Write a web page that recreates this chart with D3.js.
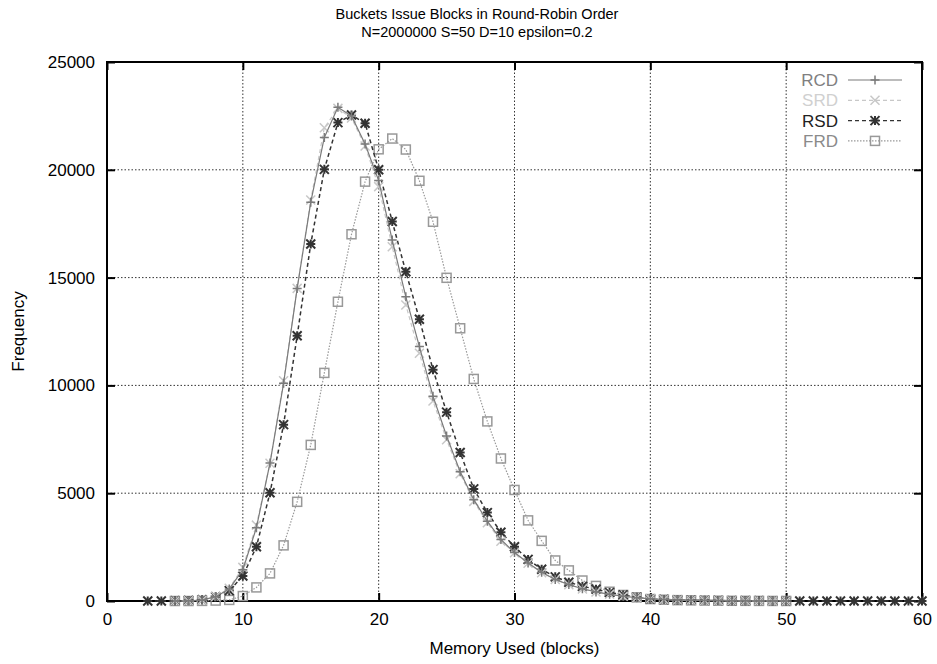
<!DOCTYPE html>
<html>
<head>
<meta charset="utf-8">
<script src="https://cdn.jsdelivr.net/npm/d3@7/dist/d3.min.js"></script>
<style>
  body { margin: 0; background: #fff; }
  svg text { font-family: "Liberation Sans", Arial, sans-serif; }
</style>
</head>
<body>
<div id="chart"></div>
<script>
// values (x = memory used in blocks)
const rcdX = d3.range(5, 51);
const rcdY = [0, 10, 40, 200, 560, 1450, 3400, 6400, 10100, 14500, 18500, 21500, 22900, 22500, 21200, 19500,
  16740, 14110, 11800, 9500, 7650, 6000, 4700, 3700, 2850, 2250, 1760, 1330, 1000, 760, 570, 420, 310, 220,
  150, 100, 70, 50, 35, 25, 18, 12, 8, 5, 3, 2];

const srdX = d3.range(5, 51);
const srdY = [0, 10, 40, 210, 590, 1560, 3520, 6390, 10220, 14500, 18600, 21950, 22850, 22400, 21100, 19220,
  16430, 13730, 11490, 9280, 7480, 5900, 4620, 3630, 2770, 2240, 1750, 1310, 1000, 750, 560, 420, 310, 220,
  150, 100, 70, 50, 35, 25, 18, 12, 8, 5, 3, 2];

const rsdX = d3.range(3, 61);
const rsdY = [0, 0, 10, 20, 60, 200, 480, 1160, 2520, 5020, 8180, 12300, 16560, 20020, 22190, 22540, 22160,
  20000, 17600, 15270, 13070, 10730, 8760, 6890, 5200, 4100, 3190, 2520, 1930, 1470, 1120, 870, 680, 550, 390,
  280, 170, 90, 70, 50, 40, 30, 20, 15, 10, 8, 5, 3, 2, 1, 0, 0, 0, 0, 0, 0, 0, 0];

const frdX = d3.range(5, 51);
const frdY = [0, 0, 5, 20, 50, 230, 630, 1280, 2580, 4600, 7240, 10580, 13880, 17010, 19450, 20950, 21450,
  20940, 19490, 17590, 14990, 12650, 10300, 8330, 6610, 5150, 3740, 2790, 1880, 1420, 950, 700, 430, 280, 170,
  90, 60, 40, 30, 20, 15, 10, 8, 5, 3, 2];

const xTicks = [0, 10, 20, 30, 40, 50, 60];
const yTicks = [0, 5000, 10000, 15000, 20000, 25000];

const titleLines = ['Buckets Issue Blocks in Round-Robin Order', 'N=2000000 S=50 D=10 epsilon=0.2'];

const series = [
  {name: 'RCD', xs: rcdX, ys: rcdY, color: '#7a7a7a', text: '#808080', dash: null, marker: 'plus'},
  {name: 'SRD', xs: srdX, ys: srdY, color: '#c8c8c8', text: '#d0d0d0', dash: '4,3', marker: 'cross'},
  {name: 'RSD', xs: rsdX, ys: rsdY, color: '#333333', text: '#222222', dash: '4,3', marker: 'star'},
  {name: 'FRD', xs: frdX, ys: frdY, color: '#999999', text: '#8a8a8a', dash: '1.5,1.5', marker: 'square'},
];

const W = 937, H = 664;
const pad = {l: 107, r: 15, t: 62, b: 63};
const iw = W - pad.l - pad.r, ih = H - pad.t - pad.b;
const FS = 17;

const svg = d3.select('#chart').append('svg')
  .attr('width', W).attr('height', H);

const x = d3.scaleLinear().domain([0, 60]).range([0, iw]);
const y = d3.scaleLinear().domain([0, 25000]).range([ih, 0]);

svg.append('g')
  .selectAll('text')
  .data(titleLines)
  .join('text')
  .attr('x', 477)
  .attr('y', (d, i) => 19 + i * 18)
  .attr('text-anchor', 'middle')
  .attr('font-size', 14.5)
  .text(d => d);

const chart = svg.append('g').attr('transform', `translate(${pad.l}, ${pad.t})`);

// grid (dotted, skip frame edges)
chart.append('g').selectAll('line')
  .data(xTicks.filter(t => t > 0 && t < 60))
  .join('line')
  .attr('x1', d => x(d)).attr('x2', d => x(d))
  .attr('y1', 0).attr('y2', ih)
  .attr('stroke', '#333').attr('stroke-width', 1).attr('stroke-dasharray', '1.5,2');
chart.append('g').selectAll('line')
  .data(yTicks.filter(t => t > 0 && t < 25000))
  .join('line')
  .attr('x1', 0).attr('x2', iw)
  .attr('y1', d => y(d)).attr('y2', d => y(d))
  .attr('stroke', '#333').attr('stroke-width', 1).attr('stroke-dasharray', '1.5,2');

// axes with inward ticks, mirrored on top / right
const xAxis = chart.append('g').attr('transform', `translate(0, ${ih})`)
  .call(d3.axisBottom(x).tickValues(xTicks).tickSize(-8).tickPadding(11));
const yAxis = chart.append('g')
  .call(d3.axisLeft(y).tickValues(yTicks).tickFormat(d3.format('d')).tickSize(-8).tickPadding(12));
chart.append('g')
  .call(d3.axisTop(x).tickValues(xTicks).tickSize(-8).tickFormat(''));
chart.append('g').attr('transform', `translate(${iw}, 0)`)
  .call(d3.axisRight(y).tickValues(yTicks).tickSize(-8).tickFormat(''));
chart.selectAll('.domain').remove();
chart.selectAll('.tick line').attr('stroke', '#000').attr('stroke-width', 2);
chart.selectAll('.tick text')
  .attr('font-size', FS)
  .attr('font-family', '"Liberation Sans", Arial, sans-serif')
  .attr('fill', '#000');
xAxis.selectAll('.tick text').attr('dy', '0.75em');

chart.append('rect')
  .attr('x', 0).attr('y', 0).attr('width', iw).attr('height', ih)
  .attr('fill', 'none').attr('stroke', '#000').attr('stroke-width', 2);

svg.append('text')
  .attr('x', pad.l + iw / 2).attr('y', 654)
  .attr('text-anchor', 'middle').attr('font-size', FS)
  .text('Memory Used (blocks)');
svg.append('text')
  .attr('transform', `translate(24, ${pad.t + ih / 2}) rotate(-90)`)
  .attr('text-anchor', 'middle').attr('font-size', FS)
  .text('Frequency');

const drawMarker = (g, type, color) => {
  const s = 4.5;
  if (type === 'plus' || type === 'star') {
    g.append('path').attr('d', `M${-s},0H${s}M0,${-s}V${s}`);
  }
  if (type === 'cross' || type === 'star') {
    g.append('path').attr('d', `M${-s},${-s}L${s},${s}M${-s},${s}L${s},${-s}`);
  }
  if (type === 'square') {
    g.append('rect').attr('x', -s).attr('y', -s).attr('width', 2 * s).attr('height', 2 * s)
      .attr('fill', 'none');
  }
  g.selectAll('path, rect').attr('stroke', color)
    .attr('stroke-width', type === 'star' ? 2 : 1.5);
};

const line = d3.line().x(d => x(d[0])).y(d => y(d[1]));

// draw back-to-front: FRD, RSD, SRD, RCD
for (const s of [...series].reverse()) {
  const pts = s.xs.map((v, i) => [v, s.ys[i]]);
  const g = chart.append('g');
  g.append('path')
    .datum(pts)
    .attr('d', line)
    .attr('fill', 'none')
    .attr('stroke', s.color)
    .attr('stroke-width', s.marker === 'star' ? 1.5 : 1.2)
    .attr('stroke-dasharray', s.dash);
  g.selectAll('g.pt')
    .data(pts)
    .join('g')
    .classed('pt', true)
    .attr('transform', d => `translate(${x(d[0])}, ${y(d[1])})`)
    .each(function() { drawMarker(d3.select(this), s.marker, s.color); });
}

// legend
const legend = svg.append('g');
series.forEach((s, i) => {
  const ly = 80 + i * 20.3;
  legend.append('text')
    .attr('x', 838).attr('y', ly + 6)
    .attr('text-anchor', 'end').attr('font-size', FS)
    .attr('fill', s.text)
    .text(s.name);
  legend.append('line')
    .attr('x1', 848).attr('x2', 902).attr('y1', ly).attr('y2', ly)
    .attr('stroke', s.color).attr('stroke-width', 1.2)
    .attr('stroke-dasharray', s.dash);
  const m = legend.append('g').attr('transform', `translate(875, ${ly})`);
  drawMarker(m, s.marker, s.color);
});
</script>
</body>
</html>
